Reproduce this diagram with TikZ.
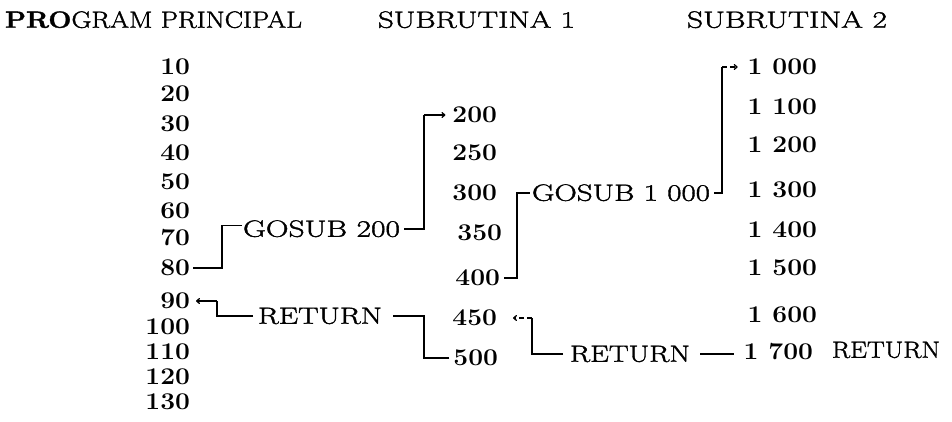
\documentclass[tikz,border=0pt]{standalone}
\usepackage{graphicx}
\usepackage{fontspec}
\setmainfont{Latin Modern Roman}[FakeStretch=1.27,FakeBold=1.6]
\newfontfamily\numfont{Latin Modern Roman}[FakeStretch=1.1]
\newcommand{\fitw}[2]{\resizebox{#1pt}{\height}{#2}}
\usetikzlibrary{arrows.meta}
\begin{document}
\begin{tikzpicture}[x=1pt,y=-1pt,
  txt/.style={inner sep=0pt, outer sep=0pt, text height=15.5pt, text depth=0pt, font=\fontsize{23.5}{28}\selectfont},
  num/.style={txt, anchor=east, font=\fontsize{24}{28}\selectfont\numfont\bfseries},
  lbl/.style={txt, anchor=west},
  line/.style={line width=1.3pt},
  arr/.style={line, -{To[length=4pt,width=6pt]}},
  darr/.style={arr, dash pattern=on 5pt off 3pt}]
\useasboundingbox (0,0) rectangle (952,422);
% titles
\node[lbl] (t0) at (5,20) {\fitw{297}{\textbf{PRO}GRAM PRINCIPAL}};
\node[lbl] (t1) at (378,20) {\fitw{197}{SUBRUTINA 1}};
\node[lbl] (t2) at (687,20) {\fitw{200}{SUBRUTINA 2}};
% main program
\node[num] (n10) at (190,67) {10};
\node[num] (n20) at (190,94) {20};
\node[num] (n30) at (190,124) {30};
\node[num] (n40) at (190,153) {40};
\node[num] (n50) at (190,182) {50};
\node[num] (n60) at (190,211) {60};
\node[num] (n70) at (190,238) {70};
\node[num] (n80) at (190,268) {80};
\node[num] (n90) at (190,301) {90};
\node[num] (n100) at (190,327) {100};
\node[num] (n110) at (190,352) {110};
\node[num] (n120) at (190,377) {120};
\node[num] (n130) at (190,402) {130};
% subroutine 1
\node[num] (m200) at (497,115) {200};
\node[num] (m250) at (497,153) {250};
\node[num] (m300) at (497,193) {300};
\node[num] (m350) at (502,233) {350};
\node[num] (m400) at (500,278) {400};
\node[num] (m450) at (497,318) {450};
\node[num] (m500) at (498,358) {500};
% subroutine 2
\node[num] (r1000) at (817,67) {1 000};
\node[num] (r1100) at (817,107) {1 100};
\node[num] (r1200) at (817,145) {1 200};
\node[num] (r1300) at (817,190) {1 300};
\node[num] (r1400) at (817,230) {1 400};
\node[num] (r1500) at (817,268) {1 500};
\node[num] (r1600) at (817,315) {1 600};
\node[num] (r1700) at (813,352) {1 700};
% labels
\node[lbl] (g200) at (243,229) {\fitw{157}{GOSUB 200}};
\node[lbl] (g1000) at (532,193) {\fitw{178}{GOSUB 1 000}};
\node[lbl] (retA) at (258,316) {\fitw{124}{RETURN}};
\node[lbl] (retB) at (570,354) {\fitw{120}{RETURN}};
\node[lbl] (retC) at (832,350) {\fitw{108}{RETURN}};
% corner columns
\coordinate (k1) at (222,0);
\coordinate (k2) at (424,0);
\coordinate (k3) at (517,0);
\coordinate (k4) at (722,0);
\coordinate (k5) at (217,0);
\coordinate (k6) at (532,0);
\coordinate (g200top) at ([yshift=-4pt]g200.north west);
% GOSUB 200
\draw[line, shorten <=3pt, shorten >=1pt] (n80.east) -- (n80.east -| k1) -- (k1 |- g200top) -- (g200top);
\draw[line, shorten <=4pt] (g200.east) -- (g200.east -| k2) -- (k2 |- m200.west);
\draw[arr, shorten >=7pt] (k2 |- m200.west) -- (m200.west);
% GOSUB 1000
\draw[line, shorten <=4pt, shorten >=2pt] (m400.east) -- (m400.east -| k3) -- (k3 |- g1000.west) -- (g1000.west);
\draw[line, shorten <=4pt] (g1000.east) -- (g1000.east -| k4) -- (k4 |- r1000.west);
\draw[darr, shorten >=10pt] (k4 |- r1000.west) -- (r1000.west);
% RETURN from 1700
\draw[line, shorten <=10pt, shorten >=10pt] (retB.east) -- (retB.east -| r1700.west);
\draw[line, shorten <=7pt] (retB.west) -- (retB.west -| k6) -- (k6 |- m450.east);
\draw[darr, shorten >=16pt] (k6 |- m450.east) -- (m450.east);
% RETURN from 500
\draw[line, shorten <=4pt, shorten >=11pt] (m500.west) -- (m500.west -| k2) -- (k2 |- retA.east) -- (retA.east);
\draw[line, shorten <=5pt] (retA.west) -- (retA.west -| k5) -- (k5 |- n90.east);
\draw[arr, shorten >=6pt] (k5 |- n90.east) -- (n90.east);
\end{tikzpicture}
\end{document}
